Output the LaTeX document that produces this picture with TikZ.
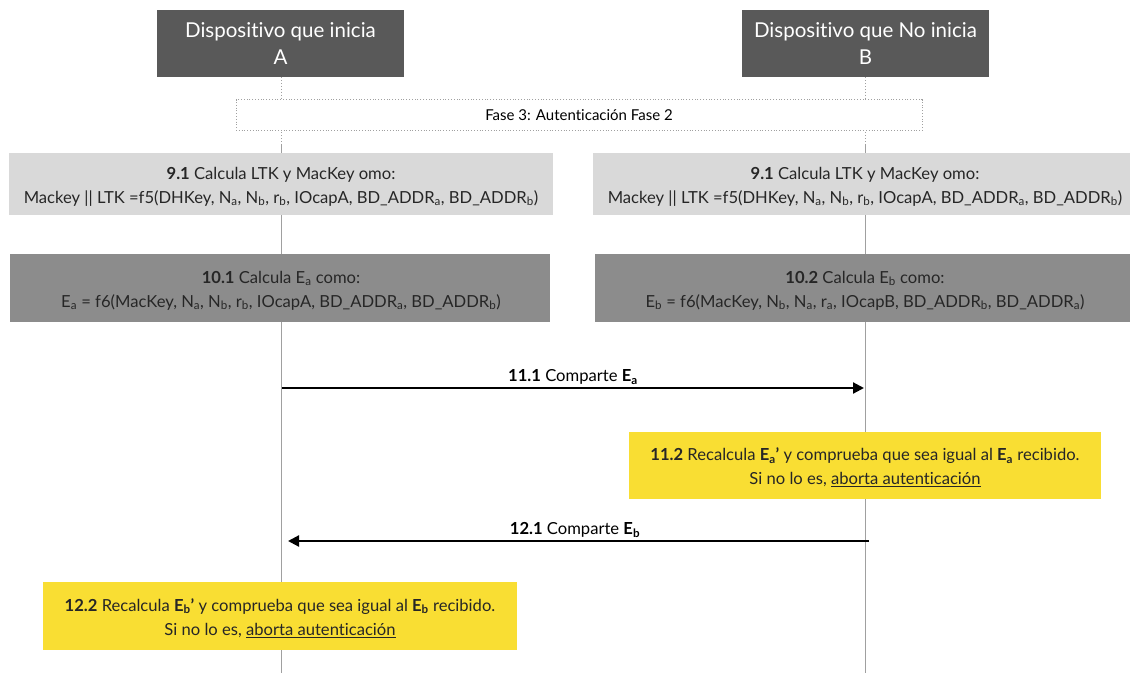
\documentclass[tikz,border=0pt]{standalone}
\usepackage{fontspec}
\setmainfont{Lato}[Ligatures={NoCommon}]
\usetikzlibrary{arrows.meta}
\definecolor{hdr}{HTML}{595959}
\definecolor{lgray}{HTML}{D9D9D9}
\definecolor{mgray}{HTML}{8C8C8C}
\definecolor{ylw}{HTML}{F9DE33}
\definecolor{lifeln}{HTML}{A0A0A0}
\newcommand{\sbs}[1]{\textsubscript{#1}}
\tikzset{
  hdrbox/.style={fill=hdr, text=white, minimum width=247pt, minimum height=67pt, align=center, font=\fontsize{20.5}{27}\selectfont, inner sep=0pt},
  phasebox/.style={draw=lifeln, dotted, line width=0.8pt, minimum width=686pt, minimum height=31pt, font=\fontsize{15}{18}\selectfont, inner sep=0pt},
  stepbox/.style={align=center, font=\fontsize{16.6}{24}\selectfont, inner sep=0pt, text=black!85},
  lifeline/.style={draw=lifeln, line width=1pt},
  lifedot/.style={draw=lifeln, dotted, line width=0.9pt},
  msg/.style={draw=black, line width=2.2pt, -{Triangle[length=11pt,width=11pt]}},
  msglabel/.style={font=\fontsize{16.6}{19}\selectfont, inner sep=0pt}
}
\begin{document}
\begin{tikzpicture}[x=1pt,y=-1pt]
\useasboundingbox (0,0) rectangle (1130,673);
\fill[white] (0,0) rectangle (1130,673);
% headers
\node[hdrbox] (A) at (280.5,43.5) {Dispositivo que inicia\\A};
\node[hdrbox] (B) at (865.5,43.5) {Dispositivo que No inicia\\B};
% lifelines
\coordinate (Ad) at (281,145);
\coordinate (Bd) at (865,145);
\coordinate (Aend) at (281,673);
\coordinate (Bend) at (865,673);
\draw[lifedot] (A.south -| Ad) -- (Ad);
\draw[lifedot] (B.south -| Bd) -- (Bd);
\draw[lifeline] (Ad) -- (Aend);
\draw[lifeline] (Bd) -- (Bend);
% phase
\node[phasebox, fill=white] (F) at (579,115) {Fase 3: Autenticación Fase 2};
% 9.1 boxes
\fill[lgray] (9,153) rectangle (553,215);
\node[stepbox] (s91a) at (281,186.5) {\textbf{9.1} Calcula LTK y MacKey omo:\\Mackey || LTK =f5(DHKey, N\sbs{a}, N\sbs{b}, r\sbs{b}, IOcapA, BD\_ADDR\sbs{a}, BD\_ADDR\sbs{b})};
\fill[lgray] (593,153) rectangle (1130,215);
\node[stepbox] (s91b) at (865,186.5) {\textbf{9.1} Calcula LTK y MacKey omo:\\Mackey || LTK =f5(DHKey, N\sbs{a}, N\sbs{b}, r\sbs{b}, IOcapA, BD\_ADDR\sbs{a}, BD\_ADDR\sbs{b})};
% 10.x boxes
\fill[mgray] (10,254) rectangle (550,322);
\node[stepbox] (s101) at (281,290.5) {\textbf{10.1} Calcula E\sbs{a} como:\\E\sbs{a} = f6(MacKey, N\sbs{a}, N\sbs{b}, r\sbs{b}, IOcapA, BD\_ADDR\sbs{a}, BD\_ADDR\sbs{b})};
\fill[mgray] (595,254) rectangle (1130,322);
\node[stepbox] (s102) at (865,290.5) {\textbf{10.2} Calcula E\sbs{b} como:\\E\sbs{b} = f6(MacKey, N\sbs{b}, N\sbs{a}, r\sbs{a}, IOcapB, BD\_ADDR\sbs{b}, BD\_ADDR\sbs{a})};
% message 11.1
\coordinate (m1s) at (282,388);
\coordinate (m1e) at (864,388);
\draw[msg] (m1s) -- (m1e);
\node[msglabel] (l111) at (573,377) {\textbf{11.1} Comparte \textbf{E\sbs{a}}};
% 11.2
\fill[ylw] (629,432) rectangle (1101,499);
\node[stepbox] (s112) at (865,467.5) {\textbf{11.2} Recalcula \textbf{E\sbs{a}’} y comprueba que sea igual al \textbf{E\sbs{a}} recibido.\\Si no lo es, \underline{aborta autenticación}};
% message 12.1
\coordinate (m2s) at (869,541);
\coordinate (m2e) at (288,541);
\draw[msg] (m2s) -- (m2e);
\node[msglabel] (l121) at (575,530) {\textbf{12.1} Comparte \textbf{E\sbs{b}}};
% 12.2
\fill[ylw] (43,582) rectangle (517,650);
\node[stepbox] (s122) at (280,618) {\textbf{12.2} Recalcula \textbf{E\sbs{b}’} y comprueba que sea igual al \textbf{E\sbs{b}} recibido.\\Si no lo es, \underline{aborta autenticación}};
\end{tikzpicture}
\end{document}
